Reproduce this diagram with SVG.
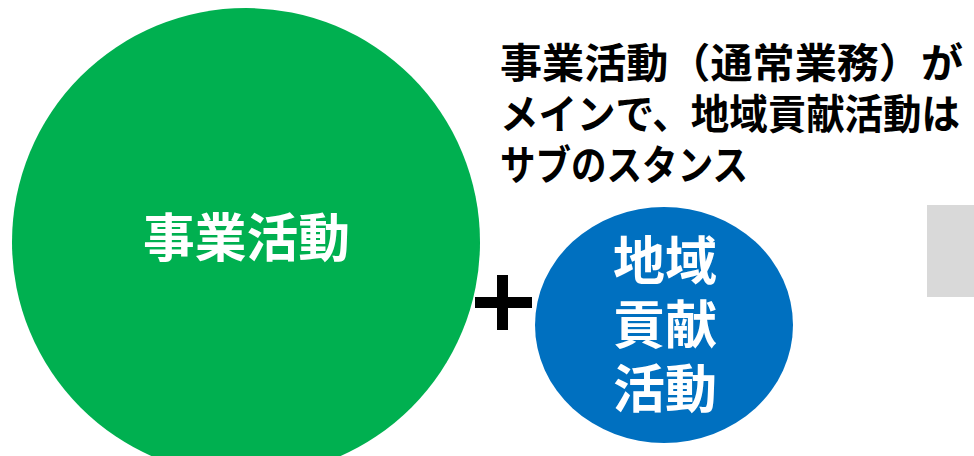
<svg xmlns="http://www.w3.org/2000/svg" width="974" height="456" viewBox="0 0 974 456">
<style>
.jp{font-family:"Noto Sans CJK JP","Noto Sans CJK SC",sans-serif;font-weight:bold;}
.wt{fill:#FFFFFF;text-anchor:middle;font-size:52px;}
.bk{fill:#000000;font-size:41px;}
</style>
<rect width="974" height="456" fill="#FFFFFF"/>
<g id="main-activity">
<circle cx="246" cy="242" r="234" fill="#00B050"/>
<text class="jp wt" x="246" y="257" font-size="53" textLength="207" lengthAdjust="spacingAndGlyphs" text-anchor="start" style="text-anchor:start" dx="-103">事業活動</text>
</g>
<g id="plus">
<rect x="475" y="297" width="57" height="11" fill="#000000"/>
<rect x="497" y="275" width="11" height="55" fill="#000000"/>
</g>
<g id="community-activity">
<ellipse cx="664" cy="325" rx="129" ry="118" fill="#0070C0"/>
<text class="jp wt" x="665" y="280">地域</text>
<text class="jp wt" x="665" y="344">貢献</text>
<text class="jp wt" x="665" y="408">活動</text>
</g>
<g id="description">
<text class="jp bk" x="500" y="78" textLength="463" lengthAdjust="spacingAndGlyphs">事業活動（通常業務）が</text>
<text class="jp bk" x="500" y="129" textLength="460" lengthAdjust="spacingAndGlyphs">メインで、地域貢献活動は</text>
<text class="jp bk" x="500" y="180" textLength="248" lengthAdjust="spacingAndGlyphs">サブのスタンス</text>
</g>
<g id="grey-box">
<rect x="927" y="205" width="47" height="92" fill="#D9D9D9"/>
</g>
</svg>
